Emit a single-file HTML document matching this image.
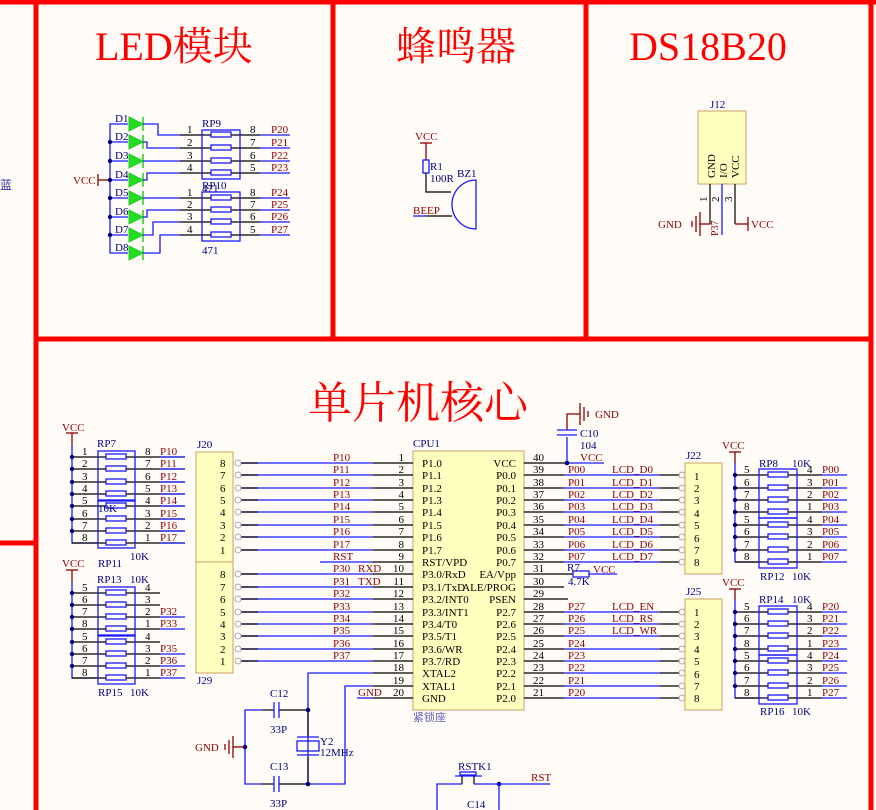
<!DOCTYPE html>
<html><head><meta charset="utf-8"><style>
html,body{margin:0;padding:0;background:#fffcf7;}
svg{display:block;}
text{font-family:"Liberation Serif","Noto Serif CJK SC",serif;font-size:11px;}
.c{fill:#000080}.n{fill:#8b0000}.k{fill:#000}
.w{stroke:#1a1aff;stroke-width:1.3;fill:none}
.p{stroke:#000;stroke-width:1.2;fill:none}
.r{stroke:#8b0000;stroke-width:1.3;fill:none}
.b{stroke:#1a1aff;stroke-width:1.3;fill:#fffcf7}
.box{fill:#ffffc0;stroke:#c8a064;stroke-width:1}
.red{stroke:#ff0000;stroke-width:5;fill:none}
.t{fill:#ff0000;font-size:40px}
</style></head><body>
<svg width="876" height="810" viewBox="0 0 876 810" xmlns="http://www.w3.org/2000/svg">
<rect width="876" height="810" fill="#fffcf7"/>
<!-- red frames -->
<line class="red" x1="0" y1="2" x2="876" y2="2"/>
<line class="red" x1="36" y1="0" x2="36" y2="810"/>
<line class="red" x1="333" y1="0" x2="333" y2="339"/>
<line class="red" x1="586" y1="0" x2="586" y2="339"/>
<line class="red" x1="871" y1="0" x2="871" y2="810"/>
<line class="red" x1="36" y1="339" x2="873" y2="339"/>
<line class="red" x1="0" y1="543" x2="36" y2="543"/>
<text x="0" y="189" fill="#3030a0" font-size="12" style="font-family:'Noto Sans CJK SC',sans-serif;font-size:12px">蓝</text>

<!-- titles -->
<text x="95" y="60" class="t">LED模块</text>
<text x="396" y="60" class="t">蜂鸣器</text>
<text x="629" y="60" class="t">DS18B20</text>
<text x="308" y="418" class="t" style="font-size:44px">单片机核心</text>

<!-- LED section -->
<line class="r" x1="98" y1="174" x2="98" y2="186"/><line class="r" x1="98" y1="180" x2="110" y2="180"/>
<text x="73" y="184" class="n">VCC</text>
<polyline class="w" points="128,124 110,124 110,253 128,253"/>
<g class="w">
<line x1="110" y1="142" x2="128" y2="142"/><line x1="110" y1="161" x2="128" y2="161"/><line x1="110" y1="180" x2="128" y2="180"/>
<line x1="110" y1="198" x2="128" y2="198"/><line x1="110" y1="217" x2="128" y2="217"/><line x1="110" y1="235" x2="128" y2="235"/>
</g>
<g fill="#000080"><circle cx="110" cy="142" r="2.2"/><circle cx="110" cy="161" r="2.2"/><circle cx="110" cy="180" r="2.2"/><circle cx="110" cy="198" r="2.2"/><circle cx="110" cy="217" r="2.2"/><circle cx="110" cy="235" r="2.2"/></g>
<g fill="#22dd22" stroke="#22cc22" stroke-width="1">
<polygon points="129,117 143,124 129,131"/><polygon points="129,135 143,142 129,149"/><polygon points="129,154 143,161 129,168"/><polygon points="129,173 143,180 129,187"/>
<polygon points="129,191 143,198 129,205"/><polygon points="129,210 143,217 129,224"/><polygon points="129,228 143,235 129,242"/><polygon points="129,246 143,253 129,260"/>
</g>
<g stroke="#22cc22" stroke-width="1.5">
<line x1="143" y1="117" x2="143" y2="131"/><line x1="143" y1="135" x2="143" y2="149"/><line x1="143" y1="154" x2="143" y2="168"/><line x1="143" y1="173" x2="143" y2="187"/>
<line x1="143" y1="191" x2="143" y2="205"/><line x1="143" y1="210" x2="143" y2="224"/><line x1="143" y1="228" x2="143" y2="242"/><line x1="143" y1="246" x2="143" y2="260"/>
</g>
<g class="c"><text x="115" y="122">D1</text><text x="115" y="140">D2</text><text x="115" y="159">D3</text><text x="115" y="178">D4</text><text x="115" y="196">D5</text><text x="115" y="215">D6</text><text x="115" y="233">D7</text><text x="115" y="251">D8</text></g>
<g class="w">
<polyline points="143,124 158,124 158,135 180,135"/>
<polyline points="143,142 147,142 147,148 180,148"/>
<line x1="143" y1="161" x2="180" y2="161"/>
<polyline points="143,180 147,180 147,173 180,173"/>
<line x1="143" y1="198" x2="180" y2="198"/>
<polyline points="143,217 147,217 147,210 180,210"/>
<polyline points="143,235 153,235 153,222 180,222"/>
<polyline points="143,253 160,253 160,235 180,235"/>
<line x1="260" y1="135" x2="290" y2="135"/><line x1="260" y1="148" x2="290" y2="148"/><line x1="260" y1="161" x2="290" y2="161"/><line x1="260" y1="173" x2="290" y2="173"/>
<line x1="260" y1="198" x2="290" y2="198"/><line x1="260" y1="210" x2="290" y2="210"/><line x1="260" y1="222" x2="290" y2="222"/><line x1="260" y1="235" x2="290" y2="235"/>
</g>
<g class="p">
<line x1="180" y1="135" x2="260" y2="135"/><line x1="180" y1="148" x2="260" y2="148"/><line x1="180" y1="161" x2="260" y2="161"/><line x1="180" y1="173" x2="260" y2="173"/>
<line x1="180" y1="198" x2="260" y2="198"/><line x1="180" y1="210" x2="260" y2="210"/><line x1="180" y1="222" x2="260" y2="222"/><line x1="180" y1="235" x2="260" y2="235"/>
</g>
<rect x="202" y="130" width="38" height="49" class="w"/>
<rect x="202" y="192" width="38" height="49" class="w"/>
<g class="b">
<rect x="211" y="132" width="20" height="5"/><rect x="211" y="145" width="20" height="5"/><rect x="211" y="158" width="20" height="5"/><rect x="211" y="170" width="20" height="5"/>
<rect x="211" y="195" width="20" height="5"/><rect x="211" y="207" width="20" height="5"/><rect x="211" y="219" width="20" height="5"/><rect x="211" y="232" width="20" height="5"/>
</g>
<g class="k"><text x="187" y="133">1</text><text x="187" y="146">2</text><text x="187" y="159">3</text><text x="187" y="171">4</text>
<text x="187" y="196">1</text><text x="187" y="208">2</text><text x="187" y="220">3</text><text x="187" y="233">4</text>
<text x="250" y="133">8</text><text x="250" y="146">7</text><text x="250" y="159">6</text><text x="250" y="171">5</text>
<text x="250" y="196">8</text><text x="250" y="208">7</text><text x="250" y="220">6</text><text x="250" y="233">5</text></g>
<g class="n"><text x="271" y="133">P20</text><text x="271" y="146">P21</text><text x="271" y="159">P22</text><text x="271" y="171">P23</text>
<text x="271" y="196">P24</text><text x="271" y="208">P25</text><text x="271" y="220">P26</text><text x="271" y="233">P27</text></g>
<g class="c"><text x="202" y="127">RP9</text><text x="202" y="189">RP10</text><text x="202" y="192">471</text><text x="202" y="254">471</text></g>

<!-- Buzzer -->
<text x="415" y="140" class="n">VCC</text>
<line class="r" x1="420" y1="143" x2="432" y2="143"/><line class="r" x1="426" y1="143" x2="426" y2="160"/>
<rect x="423" y="160" width="6" height="13" class="b"/>
<polyline class="p" points="426,173 426,192 451,192"/>
<text x="430" y="170" class="c">R1</text><text x="430" y="182" class="c">100R</text><text x="457" y="177" class="c">BZ1</text>
<path d="M476,180 A24,24.5 0 0 0 476,229 Z" class="w"/>
<line class="w" x1="413" y1="216" x2="426" y2="216"/><line class="p" x1="426" y1="216" x2="452" y2="216"/>
<text x="413" y="214" class="n">BEEP</text>

<!-- DS18B20 -->
<rect x="698" y="111" width="48" height="73" class="box"/>
<text x="710" y="108" class="c">J12</text>
<text transform="translate(715,178) rotate(-90)" class="k">GND</text>
<text transform="translate(727,178) rotate(-90)" class="k">I/O</text>
<text transform="translate(739,178) rotate(-90)" class="k">VCC</text>
<g class="p"><line x1="710" y1="184" x2="710" y2="224"/><line x1="735" y1="184" x2="735" y2="224"/></g>
<line x1="722" y1="184" x2="722" y2="235" class="w"/>
<polyline class="r" points="710,224 700,224"/>
<g class="r"><line x1="700" y1="212" x2="700" y2="236"/><line x1="696" y1="216" x2="696" y2="232"/><line x1="692" y1="221" x2="692" y2="227"/></g>
<text x="658" y="228" class="n">GND</text>
<polyline class="r" points="735,224 748,224"/><line class="r" x1="748" y1="217" x2="748" y2="231"/>
<text x="751" y="228" class="n">VCC</text>
<text transform="translate(718,236) rotate(-90)" class="n" style="font-size:10px">P37</text>
<g class="k" style="font-size:8px"><text transform="translate(707,202) rotate(-90)">1</text><text transform="translate(719,202) rotate(-90)">2</text><text transform="translate(732,202) rotate(-90)">3</text></g>

<!-- CPU -->
<rect x="413" y="451" width="111" height="259" class="box"/>
<text x="413" y="447" class="c">CPU1</text>
<text x="413" y="721" fill="#6060c0" style="font-family:'Noto Sans CJK SC',sans-serif;font-size:11px">紧锁座</text>
<!-- left pins -->
<g class="w">
<line x1="238" y1="463" x2="373" y2="463"/><line x1="238" y1="475" x2="373" y2="475"/><line x1="238" y1="488" x2="373" y2="488"/><line x1="238" y1="500" x2="373" y2="500"/>
<line x1="238" y1="512" x2="373" y2="512"/><line x1="238" y1="525" x2="373" y2="525"/><line x1="238" y1="537" x2="373" y2="537"/><line x1="238" y1="550" x2="373" y2="550"/>
<line x1="320" y1="562" x2="373" y2="562"/>
<line x1="238" y1="574" x2="373" y2="574"/><line x1="238" y1="587" x2="373" y2="587"/><line x1="238" y1="599" x2="373" y2="599"/><line x1="238" y1="612" x2="373" y2="612"/>
<line x1="238" y1="624" x2="373" y2="624"/><line x1="238" y1="636" x2="373" y2="636"/><line x1="238" y1="649" x2="373" y2="649"/><line x1="238" y1="661" x2="373" y2="661"/>
<polyline points="373,673 308,673 308,784"/>
<polyline points="373,686 345,686 345,784 308,784"/>
<line x1="357" y1="698" x2="373" y2="698"/>
</g>
<g class="p">
<line x1="373" y1="463" x2="413" y2="463"/><line x1="373" y1="475" x2="413" y2="475"/><line x1="373" y1="488" x2="413" y2="488"/><line x1="373" y1="500" x2="413" y2="500"/>
<line x1="373" y1="512" x2="413" y2="512"/><line x1="373" y1="525" x2="413" y2="525"/><line x1="373" y1="537" x2="413" y2="537"/><line x1="373" y1="550" x2="413" y2="550"/>
<line x1="373" y1="562" x2="413" y2="562"/><line x1="373" y1="574" x2="413" y2="574"/><line x1="373" y1="587" x2="413" y2="587"/><line x1="373" y1="599" x2="413" y2="599"/>
<line x1="373" y1="612" x2="413" y2="612"/><line x1="373" y1="624" x2="413" y2="624"/><line x1="373" y1="636" x2="413" y2="636"/><line x1="373" y1="649" x2="413" y2="649"/>
<line x1="373" y1="661" x2="413" y2="661"/><line x1="373" y1="673" x2="413" y2="673"/><line x1="373" y1="686" x2="413" y2="686"/><line x1="373" y1="698" x2="413" y2="698"/>
<line x1="238" y1="463" x2="258" y2="463"/><line x1="238" y1="475" x2="258" y2="475"/><line x1="238" y1="488" x2="258" y2="488"/><line x1="238" y1="500" x2="258" y2="500"/>
<line x1="238" y1="512" x2="258" y2="512"/><line x1="238" y1="525" x2="258" y2="525"/><line x1="238" y1="537" x2="258" y2="537"/><line x1="238" y1="550" x2="258" y2="550"/>
<line x1="238" y1="574" x2="258" y2="574"/><line x1="238" y1="587" x2="258" y2="587"/><line x1="238" y1="599" x2="258" y2="599"/><line x1="238" y1="612" x2="258" y2="612"/>
<line x1="238" y1="624" x2="258" y2="624"/><line x1="238" y1="636" x2="258" y2="636"/><line x1="238" y1="649" x2="258" y2="649"/><line x1="238" y1="661" x2="258" y2="661"/>
</g>
<g class="k" text-anchor="end">
<text x="404" y="461">1</text><text x="404" y="473">2</text><text x="404" y="486">3</text><text x="404" y="498">4</text><text x="404" y="510">5</text><text x="404" y="523">6</text><text x="404" y="535">7</text><text x="404" y="548">8</text>
<text x="404" y="560">9</text><text x="404" y="572">10</text><text x="404" y="585">11</text><text x="404" y="597">12</text><text x="404" y="610">13</text><text x="404" y="622">14</text><text x="404" y="634">15</text><text x="404" y="647">16</text>
<text x="404" y="659">17</text><text x="404" y="671">18</text><text x="404" y="684">19</text><text x="404" y="696">20</text>
</g>
<g class="k">
<text x="422" y="467">P1.0</text><text x="422" y="479">P1.1</text><text x="422" y="492">P1.2</text><text x="422" y="504">P1.3</text><text x="422" y="516">P1.4</text><text x="422" y="529">P1.5</text><text x="422" y="541">P1.6</text><text x="422" y="554">P1.7</text>
<text x="422" y="566">RST/VPD</text><text x="422" y="578">P3.0/RxD</text><text x="422" y="591">P3.1/TxD</text><text x="422" y="603">P3.2/INT0</text><text x="422" y="616">P3.3/INT1</text><text x="422" y="628">P3.4/T0</text><text x="422" y="640">P3.5/T1</text><text x="422" y="653">P3.6/WR</text>
<text x="422" y="665">P3.7/RD</text><text x="422" y="677">XTAL2</text><text x="422" y="690">XTAL1</text><text x="422" y="702">GND</text>
</g>
<g class="k" text-anchor="end">
<text x="516" y="467">VCC</text><text x="516" y="479">P0.0</text><text x="516" y="492">P0.1</text><text x="516" y="504">P0.2</text><text x="516" y="516">P0.3</text><text x="516" y="529">P0.4</text><text x="516" y="541">P0.5</text><text x="516" y="554">P0.6</text>
<text x="516" y="566">P0.7</text><text x="516" y="578">EA/Vpp</text><text x="516" y="591">ALE/PROG</text><text x="516" y="603">PSEN</text><text x="516" y="616">P2.7</text><text x="516" y="628">P2.6</text><text x="516" y="640">P2.5</text><text x="516" y="653">P2.4</text>
<text x="516" y="665">P2.3</text><text x="516" y="677">P2.2</text><text x="516" y="690">P2.1</text><text x="516" y="702">P2.0</text>
</g>
<g class="n">
<text x="333" y="461">P10</text><text x="333" y="473">P11</text><text x="333" y="486">P12</text><text x="333" y="498">P13</text><text x="333" y="510">P14</text><text x="333" y="523">P15</text><text x="333" y="535">P16</text><text x="333" y="548">P17</text>
<text x="333" y="560">RST</text><text x="333" y="572">P30</text><text x="358" y="572">RXD</text><text x="333" y="585">P31</text><text x="358" y="585">TXD</text><text x="333" y="597">P32</text><text x="333" y="610">P33</text><text x="333" y="622">P34</text><text x="333" y="634">P35</text><text x="333" y="647">P36</text><text x="333" y="659">P37</text>
<text x="358" y="696">GND</text>
</g>
<!-- right pins -->
<g class="p">
<line x1="524" y1="463" x2="567" y2="463"/><line x1="524" y1="475" x2="564" y2="475"/><line x1="524" y1="488" x2="564" y2="488"/><line x1="524" y1="500" x2="564" y2="500"/>
<line x1="524" y1="512" x2="564" y2="512"/><line x1="524" y1="525" x2="564" y2="525"/><line x1="524" y1="537" x2="564" y2="537"/><line x1="524" y1="550" x2="564" y2="550"/>
<line x1="524" y1="562" x2="564" y2="562"/><line x1="524" y1="574" x2="573" y2="574"/><line x1="524" y1="587" x2="564" y2="587"/><line x1="524" y1="599" x2="568" y2="599"/>
<line x1="524" y1="612" x2="564" y2="612"/><line x1="524" y1="624" x2="564" y2="624"/><line x1="524" y1="636" x2="564" y2="636"/><line x1="524" y1="649" x2="564" y2="649"/>
<line x1="524" y1="661" x2="564" y2="661"/><line x1="524" y1="673" x2="564" y2="673"/><line x1="524" y1="686" x2="564" y2="686"/><line x1="524" y1="698" x2="564" y2="698"/>
<line x1="660" y1="475" x2="682" y2="475"/><line x1="660" y1="488" x2="682" y2="488"/><line x1="660" y1="500" x2="682" y2="500"/><line x1="660" y1="512" x2="682" y2="512"/>
<line x1="660" y1="525" x2="682" y2="525"/><line x1="660" y1="537" x2="682" y2="537"/><line x1="660" y1="550" x2="682" y2="550"/><line x1="660" y1="562" x2="682" y2="562"/>
<line x1="660" y1="612" x2="682" y2="612"/><line x1="660" y1="624" x2="682" y2="624"/><line x1="660" y1="636" x2="682" y2="636"/><line x1="660" y1="649" x2="682" y2="649"/>
<line x1="660" y1="661" x2="682" y2="661"/><line x1="660" y1="673" x2="682" y2="673"/><line x1="660" y1="686" x2="682" y2="686"/><line x1="660" y1="698" x2="682" y2="698"/>
</g>
<g class="w">
<line x1="567" y1="463" x2="604" y2="463"/>
<line x1="564" y1="475" x2="660" y2="475"/><line x1="564" y1="488" x2="660" y2="488"/><line x1="564" y1="500" x2="660" y2="500"/><line x1="564" y1="512" x2="660" y2="512"/>
<line x1="564" y1="525" x2="660" y2="525"/><line x1="564" y1="537" x2="660" y2="537"/><line x1="564" y1="550" x2="660" y2="550"/><line x1="564" y1="562" x2="660" y2="562"/>
<line x1="564" y1="612" x2="660" y2="612"/><line x1="564" y1="624" x2="660" y2="624"/><line x1="564" y1="636" x2="660" y2="636"/><line x1="564" y1="649" x2="660" y2="649"/>
<line x1="564" y1="661" x2="660" y2="661"/><line x1="564" y1="673" x2="660" y2="673"/><line x1="564" y1="686" x2="660" y2="686"/><line x1="564" y1="698" x2="660" y2="698"/>
<line x1="567" y1="463" x2="567" y2="437"/>
<line x1="589" y1="574" x2="617" y2="574"/>
</g>
<g class="k">
<text x="533" y="461">40</text><text x="533" y="473">39</text><text x="533" y="486">38</text><text x="533" y="498">37</text><text x="533" y="510">36</text><text x="533" y="523">35</text><text x="533" y="535">34</text><text x="533" y="548">33</text>
<text x="533" y="560">32</text><text x="533" y="572">31</text><text x="533" y="585">30</text><text x="533" y="597">29</text><text x="533" y="610">28</text><text x="533" y="622">27</text><text x="533" y="634">26</text><text x="533" y="647">25</text>
<text x="533" y="659">24</text><text x="533" y="671">23</text><text x="533" y="684">22</text><text x="533" y="696">21</text>
</g>
<g class="n">
<text x="580" y="461">VCC</text>
<text x="568" y="473">P00</text><text x="568" y="486">P01</text><text x="568" y="498">P02</text><text x="568" y="510">P03</text><text x="568" y="523">P04</text><text x="568" y="535">P05</text><text x="568" y="548">P06</text><text x="568" y="560">P07</text>
<text x="568" y="610">P27</text><text x="568" y="622">P26</text><text x="568" y="634">P25</text><text x="568" y="647">P24</text><text x="568" y="659">P23</text><text x="568" y="671">P22</text><text x="568" y="684">P21</text><text x="568" y="696">P20</text>
<text x="612" y="473">LCD_D0</text><text x="612" y="486">LCD_D1</text><text x="612" y="498">LCD_D2</text><text x="612" y="510">LCD_D3</text><text x="612" y="523">LCD_D4</text><text x="612" y="535">LCD_D5</text><text x="612" y="548">LCD_D6</text><text x="612" y="560">LCD_D7</text>
<text x="612" y="610">LCD_EN</text><text x="612" y="622">LCD_RS</text><text x="612" y="634">LCD_WR</text>
<text x="593" y="573">VCC</text>
</g>
<circle cx="567" cy="463" r="2.3" fill="#000080"/>
<!-- C10 -->
<g class="w"><line x1="557" y1="430" x2="577" y2="430"/><line x1="557" y1="435" x2="577" y2="435"/></g>
<polyline class="r" points="567,430 567,414 580,414"/>
<g class="r"><line x1="580" y1="403" x2="580" y2="425"/><line x1="584" y1="407" x2="584" y2="421"/><line x1="588" y1="411" x2="588" y2="417"/></g>
<text x="595" y="418" class="n">GND</text>
<text x="580" y="437" class="c">C10</text><text x="580" y="449" class="c">104</text>
<!-- R7 -->
<rect x="573" y="571" width="16" height="6" class="b"/>
<text x="567" y="571" class="c">R7</text><text x="568" y="585" class="c">4.7K</text>

<!-- J20/J29 -->
<rect x="196" y="452" width="37" height="221" class="box"/><line x1="196" y1="562" x2="233" y2="562" stroke="#c8a064"/>
<text x="197" y="448" class="c">J20</text><text x="197" y="684" class="c">J29</text>
<g fill="#fffcf7" stroke="#999" stroke-width="0.8">
<circle cx="238" cy="463" r="3"/><circle cx="238" cy="475" r="3"/><circle cx="238" cy="488" r="3"/><circle cx="238" cy="500" r="3"/><circle cx="238" cy="512" r="3"/><circle cx="238" cy="525" r="3"/><circle cx="238" cy="537" r="3"/><circle cx="238" cy="550" r="3"/>
<circle cx="238" cy="574" r="3"/><circle cx="238" cy="587" r="3"/><circle cx="238" cy="599" r="3"/><circle cx="238" cy="612" r="3"/><circle cx="238" cy="624" r="3"/><circle cx="238" cy="636" r="3"/><circle cx="238" cy="649" r="3"/><circle cx="238" cy="661" r="3"/>
<circle cx="682" cy="475" r="3"/><circle cx="682" cy="488" r="3"/><circle cx="682" cy="500" r="3"/><circle cx="682" cy="512" r="3"/><circle cx="682" cy="525" r="3"/><circle cx="682" cy="537" r="3"/><circle cx="682" cy="550" r="3"/><circle cx="682" cy="562" r="3"/>
<circle cx="682" cy="612" r="3"/><circle cx="682" cy="624" r="3"/><circle cx="682" cy="636" r="3"/><circle cx="682" cy="649" r="3"/><circle cx="682" cy="661" r="3"/><circle cx="682" cy="673" r="3"/><circle cx="682" cy="686" r="3"/><circle cx="682" cy="698" r="3"/>
</g>
<g class="k">
<text x="220" y="467">8</text><text x="220" y="479">7</text><text x="220" y="492">6</text><text x="220" y="504">5</text><text x="220" y="516">4</text><text x="220" y="529">3</text><text x="220" y="541">2</text><text x="220" y="554">1</text>
<text x="220" y="578">8</text><text x="220" y="591">7</text><text x="220" y="603">6</text><text x="220" y="616">5</text><text x="220" y="628">4</text><text x="220" y="640">3</text><text x="220" y="653">2</text><text x="220" y="665">1</text>
</g>
<!-- J22/J25 -->
<rect x="685" y="463" width="37" height="111" class="box"/>
<rect x="685" y="599" width="37" height="111" class="box"/>
<text x="686" y="459" class="c">J22</text><text x="686" y="595" class="c">J25</text>
<g class="k">
<text x="694" y="480">1</text><text x="694" y="492">2</text><text x="694" y="504">3</text><text x="694" y="517">4</text><text x="694" y="529">5</text><text x="694" y="542">6</text><text x="694" y="554">7</text><text x="694" y="566">8</text>
<text x="694" y="616">1</text><text x="694" y="628">2</text><text x="694" y="640">3</text><text x="694" y="653">4</text><text x="694" y="665">5</text><text x="694" y="678">6</text><text x="694" y="690">7</text><text x="694" y="702">8</text>
</g>

<!-- Left RP7/RP11 -->
<text x="62" y="431" class="n">VCC</text>
<line class="r" x1="66" y1="433" x2="78" y2="433"/><line class="r" x1="72" y1="433" x2="72" y2="445"/>
<polyline class="w" points="72,445 72,543 98,543"/>
<g class="p">
<line x1="72" y1="457" x2="185" y2="457"/><line x1="72" y1="469" x2="185" y2="469"/><line x1="72" y1="482" x2="185" y2="482"/><line x1="72" y1="494" x2="185" y2="494"/>
<line x1="72" y1="506" x2="185" y2="506"/><line x1="72" y1="519" x2="185" y2="519"/><line x1="72" y1="531" x2="185" y2="531"/><line x1="72" y1="543" x2="185" y2="543"/>
</g>
<g class="w">
<line x1="160" y1="457" x2="185" y2="457"/><line x1="160" y1="469" x2="185" y2="469"/><line x1="160" y1="482" x2="185" y2="482"/><line x1="160" y1="494" x2="185" y2="494"/>
<line x1="160" y1="506" x2="185" y2="506"/><line x1="160" y1="519" x2="185" y2="519"/><line x1="160" y1="531" x2="185" y2="531"/><line x1="160" y1="543" x2="185" y2="543"/>
</g>
<g fill="#000080"><circle cx="72" cy="457" r="2.2"/><circle cx="72" cy="469" r="2.2"/><circle cx="72" cy="482" r="2.2"/><circle cx="72" cy="494" r="2.2"/><circle cx="72" cy="506" r="2.2"/><circle cx="72" cy="519" r="2.2"/><circle cx="72" cy="531" r="2.2"/></g>
<rect x="98" y="451" width="37" height="50" class="w"/><rect x="98" y="500" width="37" height="48" class="w"/>
<g class="b">
<rect x="106" y="454" width="20" height="5"/><rect x="106" y="466" width="20" height="5"/><rect x="106" y="479" width="20" height="5"/><rect x="106" y="491" width="20" height="5"/>
<rect x="106" y="503" width="20" height="5"/><rect x="106" y="516" width="20" height="5"/><rect x="106" y="528" width="20" height="5"/><rect x="106" y="540" width="20" height="5"/>
</g>
<g class="k"><text x="82" y="455">1</text><text x="82" y="467">2</text><text x="82" y="480">3</text><text x="82" y="492">4</text><text x="82" y="504">5</text><text x="82" y="517">6</text><text x="82" y="529">7</text><text x="82" y="541">8</text>
<text x="145" y="455">8</text><text x="145" y="467">7</text><text x="145" y="480">6</text><text x="145" y="492">5</text><text x="145" y="504">4</text><text x="145" y="517">3</text><text x="145" y="529">2</text><text x="145" y="541">1</text></g>
<g class="n"><text x="160" y="455">P10</text><text x="160" y="467">P11</text><text x="160" y="480">P12</text><text x="160" y="492">P13</text><text x="160" y="504">P14</text><text x="160" y="517">P15</text><text x="160" y="529">P16</text><text x="160" y="541">P17</text></g>
<g class="c"><text x="97" y="447">RP7</text><text x="98" y="512">10K</text><text x="130" y="560">10K</text><text x="98" y="567">RP11</text></g>
<!-- Left RP13/RP15 -->
<text x="62" y="567" class="n">VCC</text>
<line class="r" x1="66" y1="570" x2="78" y2="570"/><line class="r" x1="72" y1="570" x2="72" y2="582"/>
<polyline class="w" points="72,582 72,678 98,678"/>
<g class="p">
<line x1="72" y1="593" x2="160" y2="593"/><line x1="72" y1="605" x2="160" y2="605"/><line x1="72" y1="617" x2="160" y2="617"/><line x1="72" y1="629" x2="160" y2="629"/>
<line x1="72" y1="642" x2="160" y2="642"/><line x1="72" y1="654" x2="160" y2="654"/><line x1="72" y1="666" x2="160" y2="666"/><line x1="72" y1="678" x2="160" y2="678"/>
</g>
<g class="w"><line x1="160" y1="617" x2="185" y2="617"/><line x1="160" y1="629" x2="185" y2="629"/><line x1="160" y1="654" x2="185" y2="654"/><line x1="160" y1="666" x2="185" y2="666"/><line x1="160" y1="678" x2="185" y2="678"/></g>
<g fill="#000080"><circle cx="72" cy="593" r="2.2"/><circle cx="72" cy="605" r="2.2"/><circle cx="72" cy="617" r="2.2"/><circle cx="72" cy="629" r="2.2"/><circle cx="72" cy="642" r="2.2"/><circle cx="72" cy="654" r="2.2"/><circle cx="72" cy="666" r="2.2"/></g>
<rect x="98" y="587" width="37" height="49" class="w"/><rect x="98" y="635" width="37" height="49" class="w"/>
<g class="b">
<rect x="106" y="590" width="20" height="5"/><rect x="106" y="602" width="20" height="5"/><rect x="106" y="614" width="20" height="5"/><rect x="106" y="626" width="20" height="5"/>
<rect x="106" y="639" width="20" height="5"/><rect x="106" y="651" width="20" height="5"/><rect x="106" y="663" width="20" height="5"/><rect x="106" y="675" width="20" height="5"/>
</g>
<g class="k"><text x="82" y="591">5</text><text x="82" y="603">6</text><text x="82" y="615">7</text><text x="82" y="627">8</text><text x="82" y="640">5</text><text x="82" y="652">6</text><text x="82" y="664">7</text><text x="82" y="676">8</text>
<text x="145" y="591">4</text><text x="145" y="603">3</text><text x="145" y="615">2</text><text x="145" y="627">1</text><text x="145" y="640">4</text><text x="145" y="652">3</text><text x="145" y="664">2</text><text x="145" y="676">1</text></g>
<g class="n"><text x="160" y="615">P32</text><text x="160" y="627">P33</text><text x="160" y="652">P35</text><text x="160" y="664">P36</text><text x="160" y="676">P37</text></g>
<g class="c"><text x="97" y="583">RP13</text><text x="130" y="583">10K</text><text x="98" y="696">RP15</text><text x="130" y="696">10K</text></g>

<!-- Right RP8/RP12 -->
<text x="722" y="449" class="n">VCC</text>
<line class="r" x1="729" y1="452" x2="741" y2="452"/><line class="r" x1="735" y1="452" x2="735" y2="463"/>
<polyline class="w" points="735,463 735,562 759,562"/>
<g class="p">
<line x1="735" y1="475" x2="822" y2="475"/><line x1="735" y1="488" x2="822" y2="488"/><line x1="735" y1="500" x2="822" y2="500"/><line x1="735" y1="512" x2="822" y2="512"/>
<line x1="735" y1="525" x2="822" y2="525"/><line x1="735" y1="537" x2="822" y2="537"/><line x1="735" y1="550" x2="822" y2="550"/><line x1="735" y1="562" x2="822" y2="562"/>
</g>
<g class="w">
<line x1="822" y1="475" x2="847" y2="475"/><line x1="822" y1="488" x2="847" y2="488"/><line x1="822" y1="500" x2="847" y2="500"/><line x1="822" y1="512" x2="847" y2="512"/>
<line x1="822" y1="525" x2="847" y2="525"/><line x1="822" y1="537" x2="847" y2="537"/><line x1="822" y1="550" x2="847" y2="550"/><line x1="822" y1="562" x2="847" y2="562"/>
</g>
<g fill="#000080"><circle cx="735" cy="475" r="2.2"/><circle cx="735" cy="488" r="2.2"/><circle cx="735" cy="500" r="2.2"/><circle cx="735" cy="512" r="2.2"/><circle cx="735" cy="525" r="2.2"/><circle cx="735" cy="537" r="2.2"/><circle cx="735" cy="550" r="2.2"/></g>
<rect x="759" y="469" width="38" height="49" class="w"/><rect x="759" y="518" width="38" height="50" class="w"/>
<g class="b">
<rect x="768" y="472" width="20" height="5"/><rect x="768" y="485" width="20" height="5"/><rect x="768" y="497" width="20" height="5"/><rect x="768" y="509" width="20" height="5"/>
<rect x="768" y="522" width="20" height="5"/><rect x="768" y="534" width="20" height="5"/><rect x="768" y="547" width="20" height="5"/><rect x="768" y="559" width="20" height="5"/>
</g>
<g class="k"><text x="744" y="473">5</text><text x="744" y="486">6</text><text x="744" y="498">7</text><text x="744" y="510">8</text><text x="744" y="523">5</text><text x="744" y="535">6</text><text x="744" y="548">7</text><text x="744" y="560">8</text>
<text x="807" y="473">4</text><text x="807" y="486">3</text><text x="807" y="498">2</text><text x="807" y="510">1</text><text x="807" y="523">4</text><text x="807" y="535">3</text><text x="807" y="548">2</text><text x="807" y="560">1</text></g>
<g class="n"><text x="822" y="473">P00</text><text x="822" y="486">P01</text><text x="822" y="498">P02</text><text x="822" y="510">P03</text><text x="822" y="523">P04</text><text x="822" y="535">P05</text><text x="822" y="548">P06</text><text x="822" y="560">P07</text></g>
<g class="c"><text x="759" y="467">RP8</text><text x="792" y="467">10K</text><text x="760" y="580">RP12</text><text x="792" y="580">10K</text></g>
<!-- Right RP14/RP16 -->
<text x="722" y="586" class="n">VCC</text>
<line class="r" x1="729" y1="589" x2="741" y2="589"/><line class="r" x1="735" y1="589" x2="735" y2="600"/>
<polyline class="w" points="735,600 735,698 759,698"/>
<g class="p">
<line x1="735" y1="612" x2="822" y2="612"/><line x1="735" y1="624" x2="822" y2="624"/><line x1="735" y1="636" x2="822" y2="636"/><line x1="735" y1="649" x2="822" y2="649"/>
<line x1="735" y1="661" x2="822" y2="661"/><line x1="735" y1="673" x2="822" y2="673"/><line x1="735" y1="686" x2="822" y2="686"/><line x1="735" y1="698" x2="822" y2="698"/>
</g>
<g class="w">
<line x1="822" y1="612" x2="847" y2="612"/><line x1="822" y1="624" x2="847" y2="624"/><line x1="822" y1="636" x2="847" y2="636"/><line x1="822" y1="649" x2="847" y2="649"/>
<line x1="822" y1="661" x2="847" y2="661"/><line x1="822" y1="673" x2="847" y2="673"/><line x1="822" y1="686" x2="847" y2="686"/><line x1="822" y1="698" x2="847" y2="698"/>
</g>
<g fill="#000080"><circle cx="735" cy="612" r="2.2"/><circle cx="735" cy="624" r="2.2"/><circle cx="735" cy="636" r="2.2"/><circle cx="735" cy="649" r="2.2"/><circle cx="735" cy="661" r="2.2"/><circle cx="735" cy="673" r="2.2"/><circle cx="735" cy="686" r="2.2"/></g>
<rect x="759" y="606" width="38" height="49" class="w"/><rect x="759" y="655" width="38" height="49" class="w"/>
<g class="b">
<rect x="768" y="609" width="20" height="5"/><rect x="768" y="621" width="20" height="5"/><rect x="768" y="633" width="20" height="5"/><rect x="768" y="646" width="20" height="5"/>
<rect x="768" y="658" width="20" height="5"/><rect x="768" y="670" width="20" height="5"/><rect x="768" y="683" width="20" height="5"/><rect x="768" y="695" width="20" height="5"/>
</g>
<g class="k"><text x="744" y="610">5</text><text x="744" y="622">6</text><text x="744" y="634">7</text><text x="744" y="647">8</text><text x="744" y="659">5</text><text x="744" y="671">6</text><text x="744" y="684">7</text><text x="744" y="696">8</text>
<text x="807" y="610">4</text><text x="807" y="622">3</text><text x="807" y="634">2</text><text x="807" y="647">1</text><text x="807" y="659">4</text><text x="807" y="671">3</text><text x="807" y="684">2</text><text x="807" y="696">1</text></g>
<g class="n"><text x="822" y="610">P20</text><text x="822" y="622">P21</text><text x="822" y="634">P22</text><text x="822" y="647">P23</text><text x="822" y="659">P24</text><text x="822" y="671">P25</text><text x="822" y="684">P26</text><text x="822" y="696">P27</text></g>
<g class="c"><text x="759" y="603">RP14</text><text x="792" y="603">10K</text><text x="760" y="715">RP16</text><text x="792" y="715">10K</text></g>

<!-- Crystal section -->
<polyline class="w" points="262,710 245,710 245,784 262,784"/>
<line class="p" x1="262" y1="710" x2="274" y2="710"/><line class="p" x1="279" y1="710" x2="308" y2="710"/>
<line class="p" x1="262" y1="784" x2="274" y2="784"/><line class="p" x1="279" y1="784" x2="308" y2="784"/>
<g class="w"><line x1="274" y1="702" x2="274" y2="718"/><line x1="279" y1="702" x2="279" y2="718"/><line x1="274" y1="776" x2="274" y2="792"/><line x1="279" y1="776" x2="279" y2="792"/></g>
<line class="p" x1="308" y1="710" x2="308" y2="736"/><line class="p" x1="308" y1="757" x2="308" y2="784"/>
<g class="w"><line x1="297" y1="737" x2="319" y2="737"/><rect x="297" y="741" width="22" height="10"/><line x1="297" y1="755" x2="319" y2="755"/></g>
<g fill="#000080"><circle cx="308" cy="710" r="2.3"/><circle cx="308" cy="784" r="2.3"/><circle cx="245" cy="747" r="2.3"/><circle cx="499" cy="784" r="2.3"/></g>
<line class="r" x1="233" y1="747" x2="245" y2="747"/>
<g class="r"><line x1="233" y1="736" x2="233" y2="758"/><line x1="229" y1="740" x2="229" y2="754"/><line x1="225" y1="744" x2="225" y2="750"/></g>
<text x="195" y="751" class="n">GND</text>
<g class="c"><text x="270" y="697">C12</text><text x="270" y="733">33P</text><text x="270" y="770">C13</text><text x="270" y="807">33P</text><text x="320" y="745">Y2</text><text x="320" y="756">12MHz</text>
<text x="458" y="770">RSTK1</text><text x="467" y="808">C14</text></g>
<!-- RST button -->
<rect x="460" y="772" width="16" height="3" class="w"/><line class="w" x1="455" y1="776" x2="482" y2="776"/>
<polyline class="p" points="462,776 462,784"/><polyline class="p" points="474,776 474,784"/>
<polyline class="w" points="462,784 437,784 437,810"/>
<polyline class="w" points="474,784 550,784"/>
<line class="w" x1="499" y1="784" x2="499" y2="810"/>
<text x="531" y="781" class="n">RST</text>
</svg>
</body></html>
